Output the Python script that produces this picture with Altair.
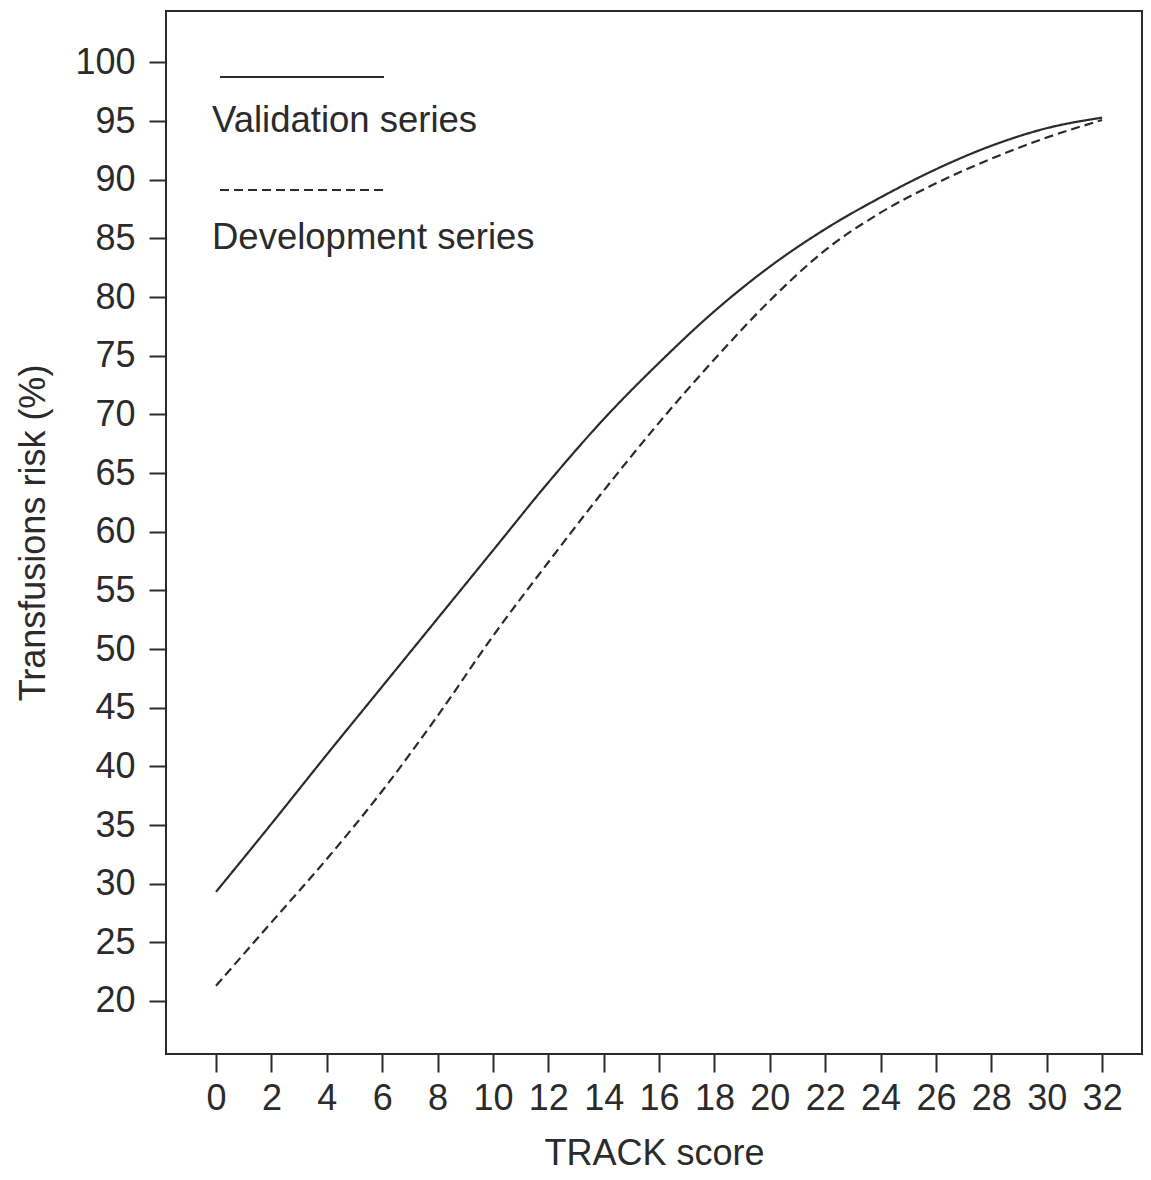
import altair as alt
import pandas as pd

scores = [0, 2, 4, 6, 8, 10, 12, 14, 16, 18, 20, 22, 24, 26, 28, 30, 32]
validation = [29.3, 35.1, 41.0, 46.8, 52.6, 58.4, 64.2, 69.6, 74.4, 78.8, 82.6, 85.8, 88.5, 90.9, 92.9, 94.4, 95.3]
development = [21.3, 26.7, 32.1, 37.9, 44.3, 51.1, 57.4, 63.5, 69.3, 74.7, 79.7, 84.0, 87.2, 89.7, 91.8, 93.6, 95.1]
series_names = ["Validation series", "Development series"]
x_ticks = list(range(0, 33, 2))
y_ticks = list(range(20, 101, 5))

FONT = "Liberation Sans"
INK = "#2b2b2b"

df = pd.concat([
    pd.DataFrame({"score": scores, "risk": validation, "series": series_names[0]}),
    pd.DataFrame({"score": scores, "risk": development, "series": series_names[1]}),
])

W, H = 976, 1043

xscale = alt.Scale(domain=[-1.806, 33.44], nice=False, zero=False)
yscale = alt.Scale(domain=[15.48, 104.39], nice=False, zero=False)

lines = alt.Chart(df).mark_line(interpolate="monotone", strokeWidth=2.2, color=INK).encode(
    x=alt.X("score:Q", scale=xscale,
            axis=alt.Axis(values=x_ticks, title="TRACK score", domain=False, grid=False,
                          tickSize=18, tickWidth=2, tickColor=INK, labelFontSize=36,
                          labelFont=FONT, labelColor=INK, labelPadding=9,
                          titleFont=FONT, titleFontSize=36, titleFontWeight="normal",
                          titleColor=INK, titlePadding=20)),
    y=alt.Y("risk:Q", scale=yscale,
            axis=alt.Axis(values=y_ticks, title="Transfusions risk (%)", domain=False, grid=False,
                          tickSize=17, tickWidth=2, tickColor=INK, labelFontSize=36,
                          labelFont=FONT, labelColor=INK, labelPadding=14,
                          titleFont=FONT, titleFontSize=36, titleFontWeight="normal",
                          titleColor=INK, titlePadding=22)),
    strokeDash=alt.StrokeDash("series:N",
                              scale=alt.Scale(domain=series_names, range=[[1, 0], [9, 5]]),
                              legend=None),
    detail="series:N",
)

leg_solid = alt.Chart(pd.DataFrame({"name": [series_names[0]]})).mark_rule(
    strokeWidth=2.2, color=INK).encode(
    x=alt.value(54), x2=alt.value(218), y=alt.value(66))
leg_dash = alt.Chart(pd.DataFrame({"name": [series_names[1]]})).mark_rule(
    strokeWidth=2.2, color=INK, strokeDash=[9, 5]).encode(
    x=alt.value(54), x2=alt.value(218), y=alt.value(179))
leg_text1 = alt.Chart(pd.DataFrame({"name": [series_names[0]]})).mark_text(
    align="left", baseline="middle", font=FONT, fontSize=36.5, color=INK).encode(
    x=alt.value(46), y=alt.value(110), text="name:N")
leg_text2 = alt.Chart(pd.DataFrame({"name": [series_names[1]]})).mark_text(
    align="left", baseline="middle", font=FONT, fontSize=36.5, color=INK).encode(
    x=alt.value(46), y=alt.value(227), text="name:N")

chart = alt.layer(lines, leg_solid, leg_dash, leg_text1, leg_text2).properties(
    width=W, height=H,
    background="white",
    autosize=alt.AutoSizeParams(type="none"),
    padding={"left": 158, "top": 3, "right": 1, "bottom": 118},
).configure_view(
    stroke=INK, strokeWidth=2
)

chart.save("out.html", embed_options={"renderer": "svg", "actions": False})
